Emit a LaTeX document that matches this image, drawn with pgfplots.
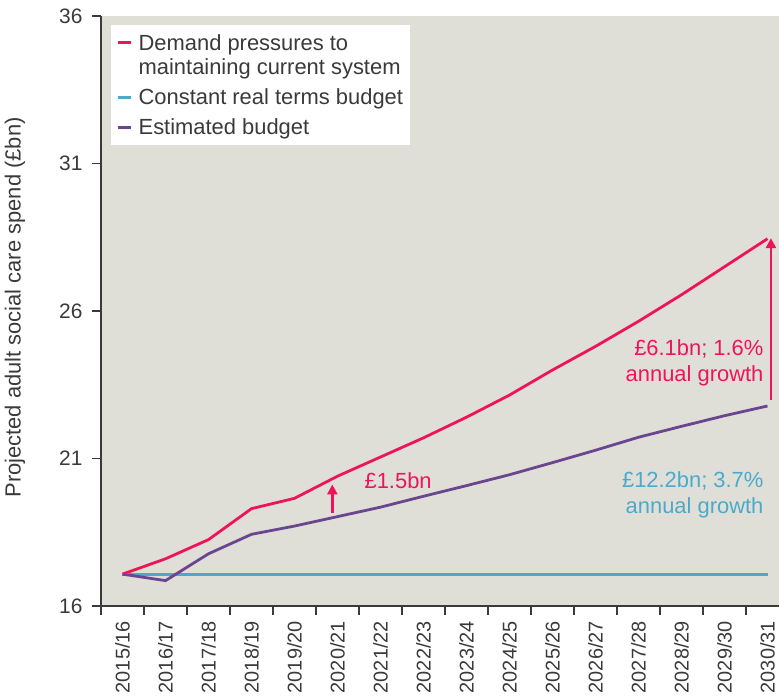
\documentclass[border=0pt]{standalone}
\usepackage{pgfplots}
\pgfplotsset{compat=1.18}
\usepackage{fontspec}
\setmainfont{Liberation Sans}
\usetikzlibrary{arrows.meta}
\definecolor{cpink}{HTML}{ED145B}
\definecolor{cteal}{HTML}{4BAACB}
\definecolor{cpurple}{HTML}{6B4690}
\definecolor{cbg}{HTML}{E0DFD7}
\definecolor{ctext}{HTML}{3A3A3A}
\begin{document}
\begin{tikzpicture}[font=\fontsize{22}{26}\selectfont, text=ctext]
\begin{axis}[name=ax, scale only axis, width=688bp, height=590bp,
  xmin=-0.5, xmax=15.5, ymin=16, ymax=36,
  axis x line*=bottom, axis y line*=left,
  axis line style={ctext, line width=1.2bp},
  axis background/.style={fill=cbg},
  xtick={-0.5,0.5,...,15.5},
  x tick label as interval=true,
  xticklabels={2015/16,2016/17,2017/18,2018/19,2019/20,2020/21,2021/22,2022/23,2023/24,2024/25,2025/26,2026/27,2027/28,2028/29,2029/30,2030/31},
  ytick={16,21,26,31,36},
  tick align=outside, major tick length=9bp,
  tick style={ctext, line width=1.2bp},
  /pgf/number format/assume math mode=true,
  tick label style={font=\fontsize{21}{24}\selectfont, text=ctext},
  xticklabel style={rotate=90, anchor=east, inner sep=0pt, font=\fontsize{20}{24}\selectfont},
  xticklabel shift=6bp, yticklabel shift=6bp,
  every axis y label/.style={at={(axis description cs:-0.125,0.506)}, rotate=90, anchor=center},
  ylabel={Projected adult social care spend (£bn)},
  legend style={at={(axis description cs:0.0145,0.9847)}, anchor=north west,
    draw=none, fill=white, inner xsep=5bp, inner ysep=7bp,
    cells={align=left, anchor=west}, row sep=9bp,
    font=\fontsize{22}{24}\selectfont},
  legend image code/.code={\draw[#1, line width=3bp] (0bp,0bp) -- (13bp,0bp); \path[draw=none] (0bp,0bp) -- (19bp,0bp);},
  legend cell align=left,
]
\addplot[cpink, line width=2.8bp,
  legend image code/.code={\draw[cpink, line width=3bp] (0bp,12bp) -- (13bp,12bp); \path[draw=none] (0bp,-12bp) -- (19bp,12bp);}] coordinates {
 (0,17.08) (1,17.6) (2,18.25) (3,19.3) (4,19.65) (5,20.4) (6,21.05) (7,21.7)
 (8,22.4) (9,23.15) (10,24.0) (11,24.8) (12,25.65) (13,26.55) (14,27.5) (15,28.45)};
\addlegendentry{Demand pressures to\\maintaining current system}
\addplot[cteal, line width=2.8bp] coordinates {
 (0,17.08) (1,17.08) (2,17.08) (3,17.08) (4,17.08) (5,17.08) (6,17.08) (7,17.08)
 (8,17.08) (9,17.08) (10,17.08) (11,17.08) (12,17.08) (13,17.08) (14,17.08) (15,17.08)};
\addlegendentry{Constant real terms budget}
\addplot[cpurple, line width=2.8bp] coordinates {
 (0,17.08) (1,16.86) (2,17.77) (3,18.43) (4,18.71) (5,19.03) (6,19.35) (7,19.72)
 (8,20.08) (9,20.45) (10,20.86) (11,21.28) (12,21.72) (13,22.09) (14,22.45) (15,22.78)};
\addlegendentry{Estimated budget}
\draw[cpink, line width=2.5bp, -{Triangle[width=10bp,length=10bp]}] (axis cs:4.88,19.16) -- (axis cs:4.88,20.12);
\draw[cpink, line width=2.5bp, -{Triangle[width=10bp,length=10bp]}] (axis cs:15.08,22.98) -- (axis cs:15.08,28.47);
\node[cpink, inner sep=0pt] at (axis cs:6.41,20.25) {£1.5bn};
\node[cpink, anchor=east, align=right, inner sep=0pt] at (axis cs:14.91,24.25) {£6.1bn; 1.6\%\\annual growth};
\node[cteal, anchor=east, align=right, inner sep=0pt] at (axis cs:14.91,19.76) {£12.2bn; 3.7\%\\annual growth};
\end{axis}
\pgfresetboundingbox
\path[use as bounding box] ([xshift=-101bp,yshift=-94bp]ax.south west) rectangle ([xshift=678bp,yshift=606bp]ax.south west);
\end{tikzpicture}
\end{document}
